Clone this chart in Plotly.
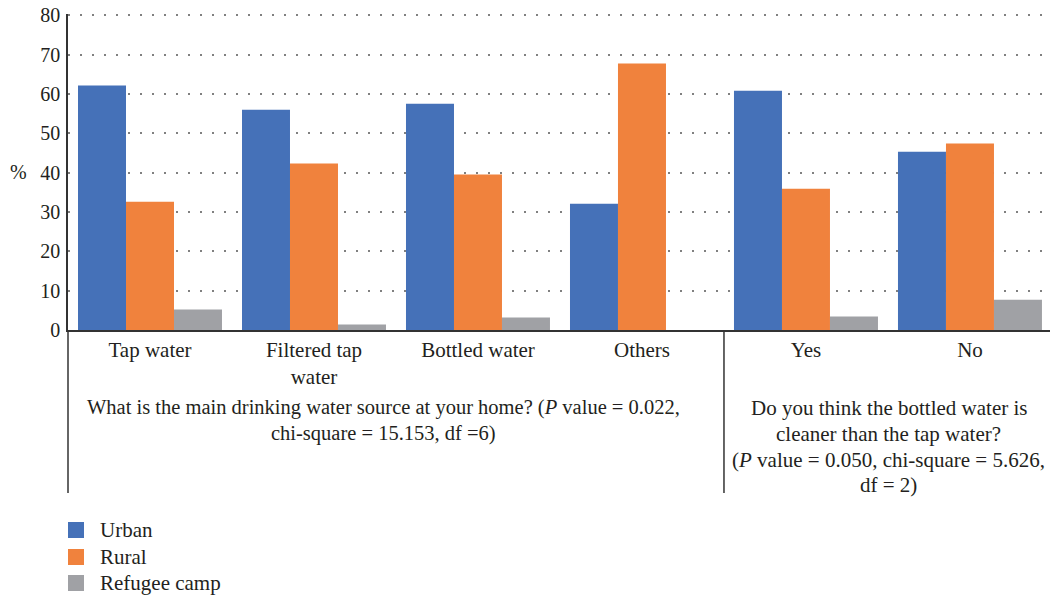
import plotly.graph_objects as go

# Survey answers (% of respondents) by place of residence
categories = ["Tap water", "Filtered tap<br>water", "Bottled water", "Others", "Yes", "No"]
urban = [62.1, 56.0, 57.5, 32.1, 60.8, 45.3]
rural = [32.6, 42.3, 39.5, 67.7, 35.9, 47.4]
refugee_camp = [5.2, 1.4, 3.2, 0.0, 3.4, 7.7]

series = [
    ("Urban", urban, "#4571B8"),
    ("Rural", rural, "#F0823D"),
    ("Refugee camp", refugee_camp, "#A0A1A5"),
]

FONT = "Liberation Serif"
TXT = "#231F20"
FS = 21

fig = go.Figure()
for name, vals, color in series:
    fig.add_trace(go.Bar(
        x=categories, y=vals, name=name, showlegend=False,
        marker=dict(color=color, line=dict(width=0)),
    ))

# question captions below the category labels, one annotation per line
left_lines = [
    "What is the main drinking water source at your home? (<i>P</i> value = 0.022,",
    "chi-square = 15.153, df =6)",
]
left_y = [-0.2468, -0.326]
right_lines = [
    "Do you think the bottled water is",
    "cleaner than the tap water?",
    "(<i>P</i> value = 0.050, chi-square = 5.626,",
    "df = 2)",
]
right_y = [-0.2468, -0.329, -0.411, -0.4905]

annotations = []
for t, yy in zip(left_lines, left_y):
    annotations.append(dict(
        text=t, xref="paper", yref="paper", x=0.321, y=yy,
        xanchor="center", yanchor="middle", showarrow=False,
        font=dict(family=FONT, size=20.5, color=TXT),
    ))
for t, yy in zip(right_lines, right_y):
    annotations.append(dict(
        text=t, xref="paper", yref="paper", x=0.836, y=yy,
        xanchor="center", yanchor="middle", showarrow=False,
        font=dict(family=FONT, size=FS, color=TXT),
    ))
annotations.append(dict(
    text="%", xref="paper", yref="paper", x=-0.0509, y=0.5,
    xanchor="center", yanchor="middle", showarrow=False,
    font=dict(family=FONT, size=20, color=TXT),
))

shapes = [
    # left axis continues down past the caption area
    dict(type="line", xref="paper", yref="paper", x0=0, x1=0, y0=-0.516, y1=0,
         line=dict(color="#333333", width=1.5)),
    # divider between the two questions
    dict(type="line", xref="x", yref="paper", x0=3.5, x1=3.5, y0=-0.516, y1=0,
         line=dict(color="#333333", width=1.5)),
]

# legend: square swatch + label for each series, stacked below the chart
legend_y = [-0.6329, -0.7184, -0.8006]
sw_w, sw_h = 0.0163, 0.0253
for (name, _, color), ly in zip(series, legend_y):
    shapes.append(dict(
        type="rect", xref="paper", yref="paper",
        x0=0, x1=sw_w, y0=ly - sw_h, y1=ly + sw_h,
        fillcolor=color, line=dict(width=0),
    ))
    annotations.append(dict(
        text=name, xref="paper", yref="paper", x=0.0305, y=ly,
        xanchor="left", yanchor="middle", showarrow=False,
        font=dict(family=FONT, size=FS, color=TXT),
    ))

fig.update_layout(
    width=1050, height=597,
    margin=dict(l=68, r=0, t=14, b=267, pad=0, autoexpand=False),
    plot_bgcolor="white", paper_bgcolor="white",
    barmode="group", bargap=0.122, bargroupgap=0,
    showlegend=False,
    font=dict(family=FONT, size=FS, color=TXT),
    xaxis=dict(
        type="category", categoryorder="array", categoryarray=categories,
        range=[-0.5, 5.488], showline=True, linecolor="#333333", linewidth=1.5,
        ticks="", showgrid=False, zeroline=False, ticklabelstandoff=0,
        tickfont=dict(family=FONT, size=FS, color=TXT),
    ),
    yaxis=dict(
        range=[0, 80.3], tickvals=[0, 10, 20, 30, 40, 50, 60, 70, 80],
        showgrid=True, gridcolor="#808080",
        griddash="2px,10px", gridwidth=1.5, showline=True, linecolor="#333333",
        linewidth=1.5, ticks="", zeroline=False, ticklabelstandoff=2,
        tickfont=dict(family=FONT, size=20, color=TXT),
    ),
    annotations=annotations,
    shapes=shapes,
)

fig.write_html("out.html")
